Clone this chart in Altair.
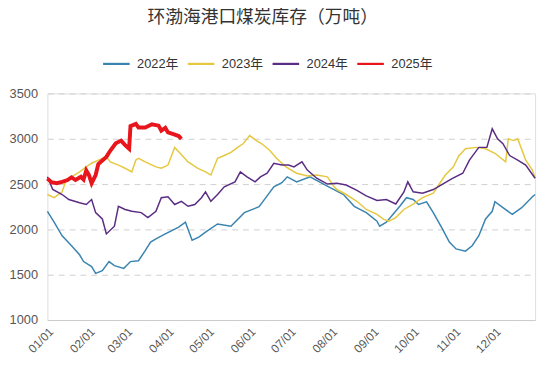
import altair as alt
import pandas as pd

# ---- data (day of year -> stock, 10k t) ----
d22 = [0,5,11,18,24,27,33,36,41,46,50,57,62,68,73,77,81,88,98,103,108,113,118,127,137,147,158,164,169,175,179,186,196,203,211,221,229,238,246,248,253,263,268,273,277,283,288,295,300,305,312,317,322,327,332,334,340,347,354,362,364]
v22 = [2200,2080,1930,1820,1720,1645,1590,1515,1545,1645,1600,1570,1645,1655,1765,1860,1895,1950,2025,2080,1880,1915,1970,2060,2035,2185,2250,2370,2470,2515,2580,2525,2580,2525,2460,2385,2255,2185,2090,2035,2080,2255,2350,2330,2275,2305,2185,2000,1860,1785,1760,1820,1930,2115,2200,2305,2240,2165,2240,2360,2385]

d23 = [0,5,11,14,18,24,29,33,38,44,47,53,58,63,66,68,73,81,85,90,95,99,105,112,118,122,127,132,137,142,146,151,156,160,166,171,178,186,194,201,209,214,216,223,231,238,246,251,255,260,266,273,280,288,292,297,303,307,312,320,327,334,342,344,348,351,357,362,364]
v23 = [2385,2350,2415,2545,2580,2635,2690,2730,2765,2800,2745,2710,2675,2635,2765,2785,2745,2690,2675,2710,2905,2840,2745,2675,2635,2600,2785,2815,2850,2905,2945,3035,2980,2945,2870,2785,2690,2620,2590,2600,2580,2470,2440,2385,2310,2220,2165,2110,2090,2130,2220,2280,2350,2400,2490,2600,2690,2810,2890,2905,2890,2840,2745,3000,2980,3000,2765,2655,2565]

d24 = [0,4,11,16,24,29,33,36,41,44,50,53,58,63,70,75,81,85,90,95,100,105,110,115,118,122,127,132,140,144,149,155,159,164,169,175,180,184,190,194,201,209,216,223,231,238,246,253,260,266,269,273,280,288,295,302,310,315,322,328,332,336,340,345,351,357,364]
v24 = [2580,2440,2385,2330,2295,2275,2330,2185,2115,1950,2035,2255,2220,2200,2185,2130,2200,2350,2360,2275,2310,2255,2275,2350,2415,2310,2385,2470,2525,2635,2580,2525,2580,2620,2730,2710,2710,2690,2745,2655,2565,2500,2510,2490,2430,2370,2320,2330,2280,2410,2525,2415,2400,2440,2500,2560,2620,2765,2905,2905,3110,3000,2945,2815,2765,2710,2565]

d25 = [0,3,7,11,15,18,21,25,27,29,31,33,36,38,44,47,51,55,58,61,62,66,68,73,78,83,85,88,90,94,98,100]
v25 = [2560,2520,2510,2525,2545,2575,2545,2580,2550,2650,2600,2510,2600,2720,2800,2870,2950,2980,2930,2890,3140,3165,3125,3125,3160,3145,3090,3120,3070,3050,3030,3000]

series = ["2022年", "2023年", "2024年", "2025年"]
colors = ["#3a84b0", "#e6c840", "#5a2c84", "#e8161c"]
y_ticks = [1000, 1500, 2000, 2500, 3000, 3500]

base_day = pd.Timestamp("2023-01-01")
rows = []
for name, days, vals in zip(series, [d22, d23, d24, d25], [v22, v23, v24, v25]):
    for d, v in zip(days, vals):
        rows.append({"date": (base_day + pd.Timedelta(days=d)).strftime("%Y-%m-%dT%H:%M:%S"),
                     "value": v, "series": name})
df = pd.DataFrame(rows)

month_ticks = [alt.DateTime(year=2023, month=m, date=1) for m in range(1, 13)]

base = alt.Chart(df).encode(
    x=alt.X("date:T",
            scale=alt.Scale(domain=[alt.DateTime(year=2023, month=1, date=1),
                                    alt.DateTime(year=2023, month=12, date=31)]),
            axis=alt.Axis(values=month_ticks, format="%m/%d", title=None,
                          labelAngle=-45, grid=False, ticks=False,
                          domain=True, domainColor="#cccccc", domainWidth=1,
                          labelFontSize=12, labelColor="#555555",
                          labelFont="Liberation Sans", labelPadding=6)),
    y=alt.Y("value:Q",
            scale=alt.Scale(domain=[1000, 3500], nice=False, zero=False),
            axis=alt.Axis(values=y_ticks, format="d", title=None, domain=False, ticks=False,
                          grid=True, gridDash=[6, 5], gridColor="#cfcfcf",
                          labelFontSize=13, labelColor="#555555",
                          labelFont="Liberation Sans", labelPadding=10)),
    color=alt.Color("series:N", scale=alt.Scale(domain=series, range=colors),
                    legend=alt.Legend(
                        title=None, orient="none", legendX=55, legendY=-45,
                        direction="horizontal", symbolType="stroke", symbolSize=729,
                        symbolStrokeWidth=2.2,
                        labelFontSize=13, labelColor="#333333",
                        labelFont="Liberation Sans, Noto Sans CJK SC",
                        columnPadding=5, labelOffset=6)),
)

past = base.transform_filter(alt.datum.series != "2025年").mark_line(strokeWidth=1.5)
current = base.transform_filter(alt.datum.series == "2025年").mark_line(strokeWidth=4)

chart = alt.layer(past, current).properties(
    width=495, height=230,
    title=alt.TitleParams("环渤海港口煤炭库存（万吨）", font="Noto Sans CJK SC",
                          fontSize=18, fontWeight="normal", color="#333333",
                          anchor="middle", dx=-29, offset=22),
    autosize=alt.AutoSizeParams(type="none"),
    padding={"left": 40, "top": 84, "right": 7, "bottom": 50},
).configure_view(stroke=None).configure(background="white")

chart.save("out.html", embed_options={"renderer": "svg", "actions": False})
